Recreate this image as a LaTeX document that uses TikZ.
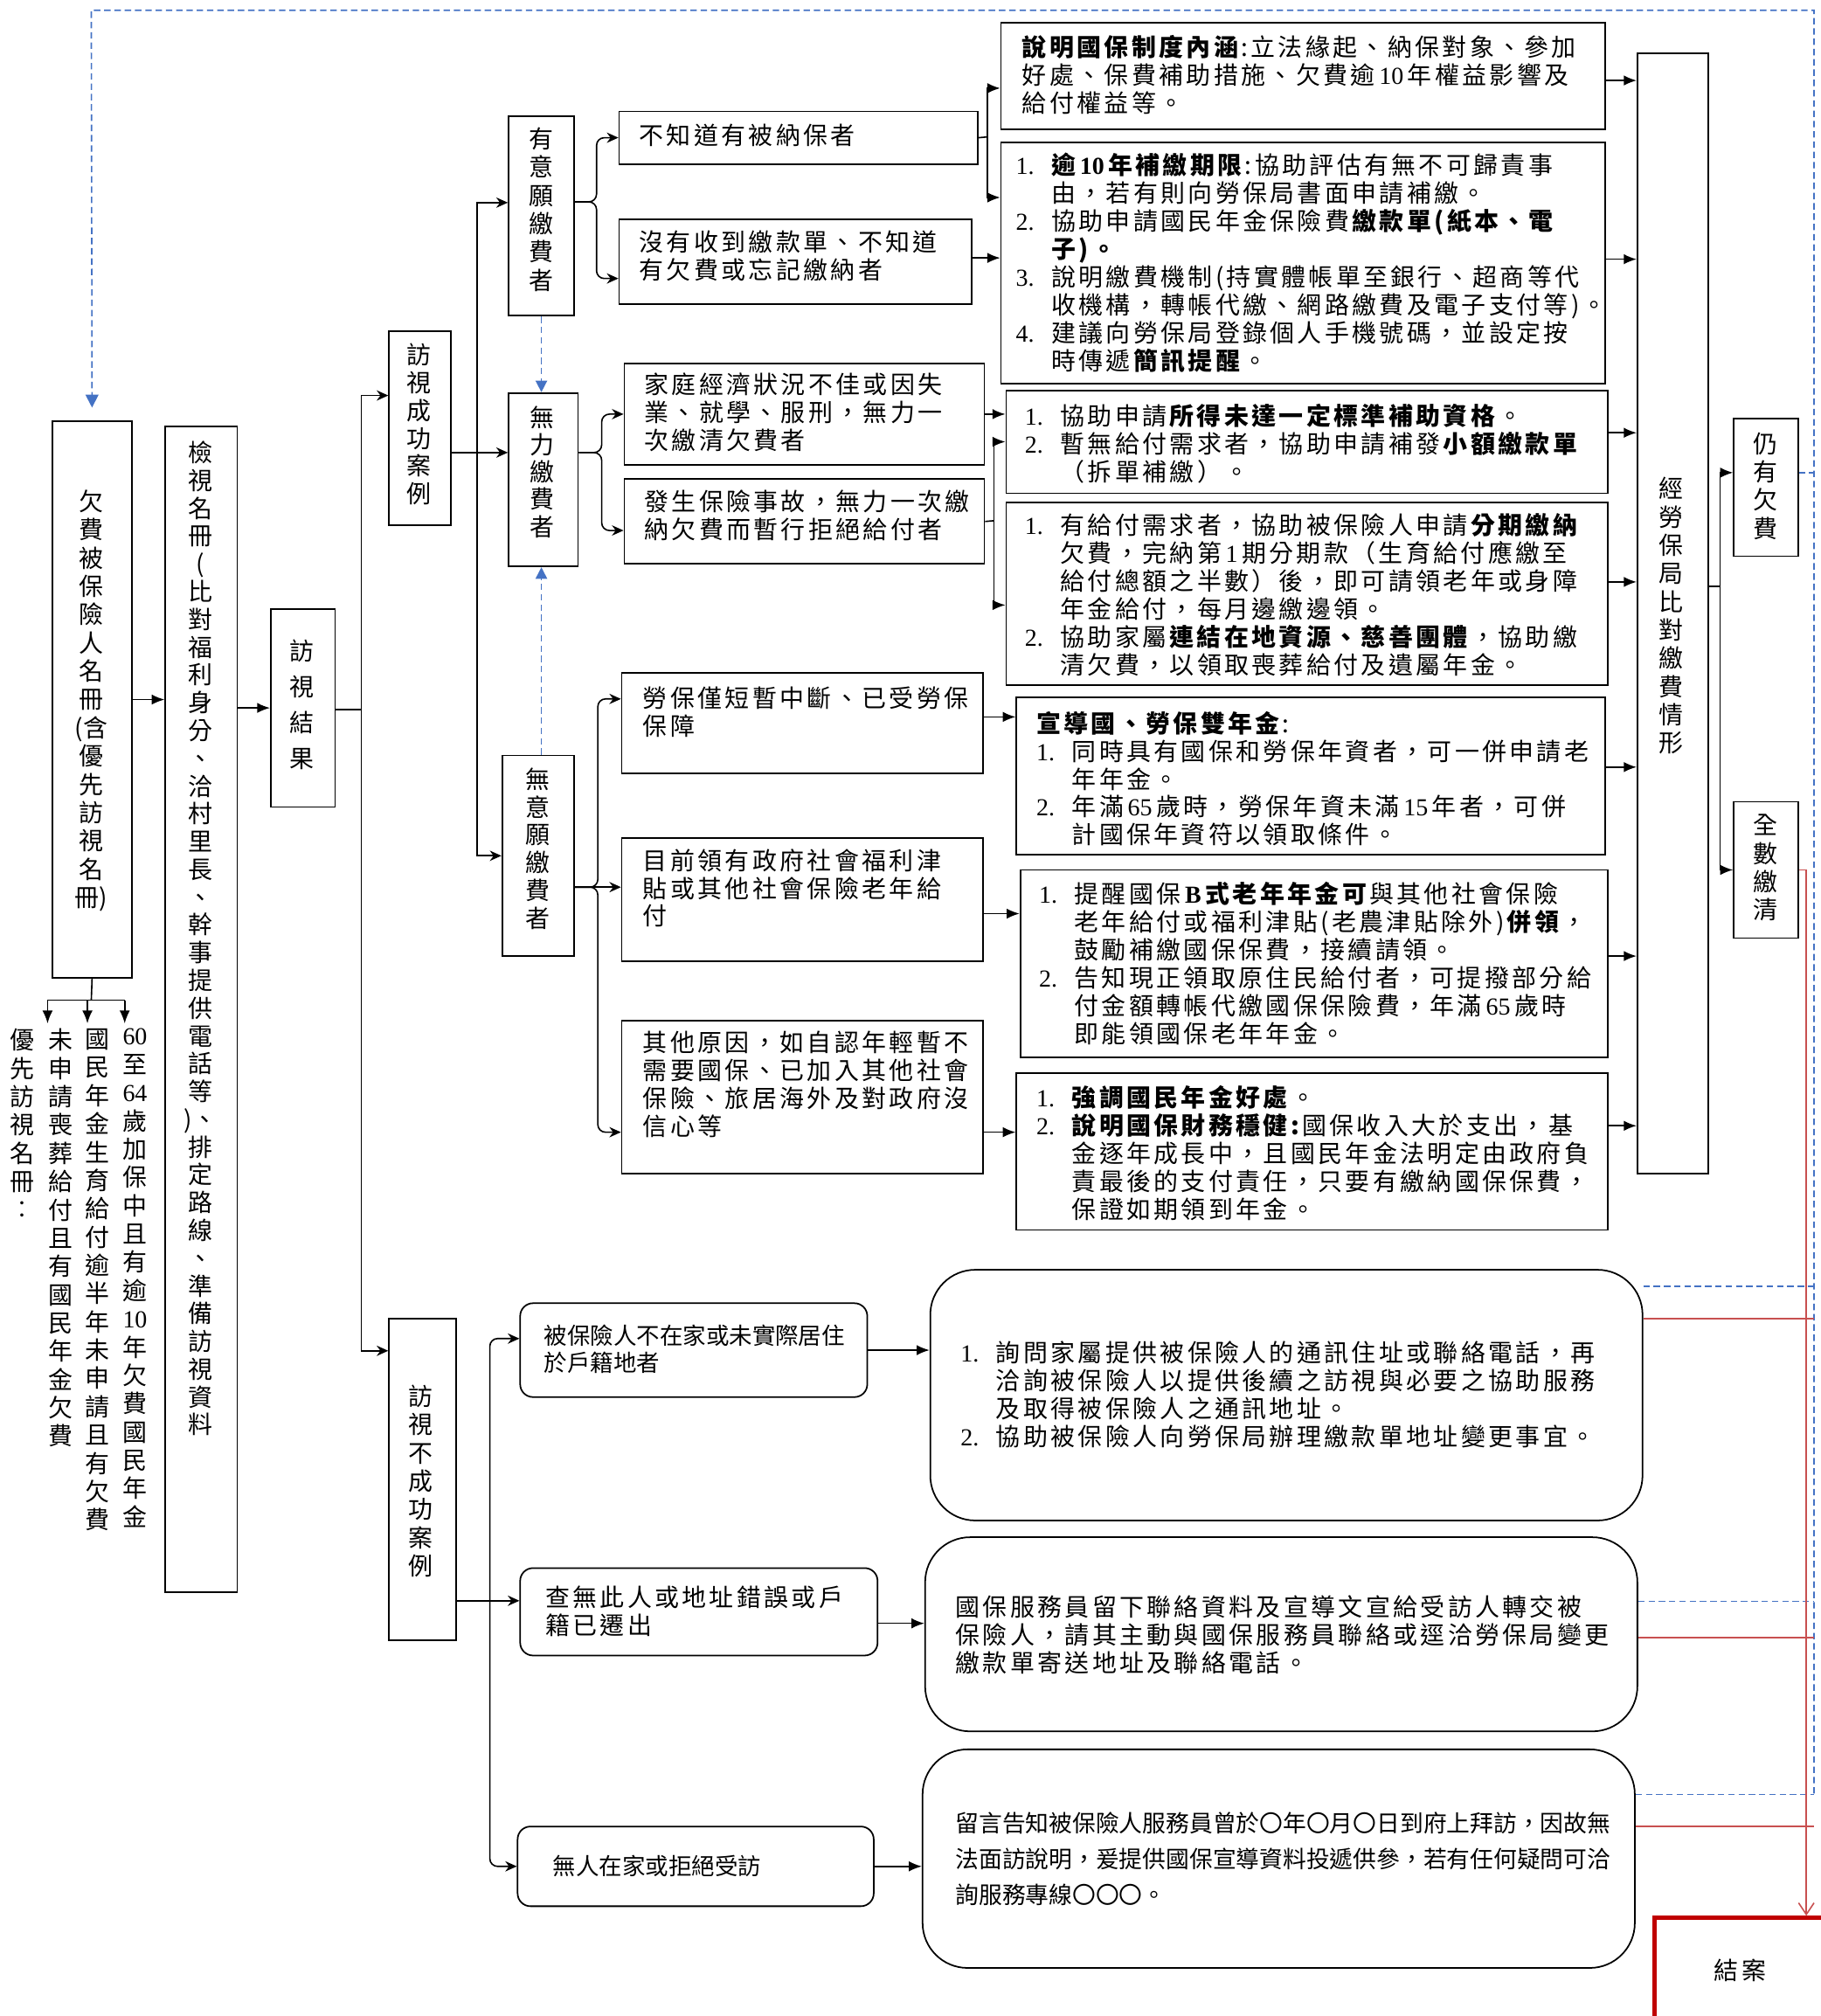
\documentclass[tikz,border=0pt]{standalone}
\usepackage{fontspec}
\setmainfont{Noto Sans CJK TC}[LetterSpace=12]
\newfontfamily\cjkn{Noto Sans CJK TC}
\newfontfamily\tnr{Liberation Serif}
\usetikzlibrary{arrows.meta}
\definecolor{dblue}{RGB}{68,114,196}
\definecolor{lred}{RGB}{200,80,80}
\definecolor{dred}{RGB}{192,0,0}
\newcommand\numi[1]{\makebox[1.45em][l]{\tnr #1.}}
\newcommand\hind{\hspace*{1.45em}}
\begin{document}
\begin{tikzpicture}[x=1pt,y=-1pt,
  box/.style={draw, line width=1.2pt, inner sep=0pt, anchor=north west},
  rbox/.style={box, rounded corners=10pt},
  Rbox/.style={box, rounded corners=35pt},
  txt/.style={anchor=north west, inner sep=0pt, align=left, font=\fontsize{19}{21.7}\selectfont},
  vt/.style={inner sep=0pt, align=center, font=\cjkn\fontsize{19}{#1}\selectfont},
  vt/.default=22,
  ln/.style={line width=1.1pt},
  arr/.style={line width=1.1pt, -{Stealth[length=9pt,width=8pt]}},
  arrf/.style={line width=1.1pt, -{Latex[length=10pt,width=8pt]}},
  bd/.style={draw=dblue, line width=1.1pt, dash pattern=on 5pt off 3pt},
  rl/.style={draw=lred, line width=1.1pt}
]
\useasboundingbox (0,0) rectangle (1416,1568);
\fill[white] (0,0) rectangle (1416,1568);

% ---------- left column boxes ----------
\node[box,minimum width=62,minimum height=433] (Q) at (40,327) {};
\node[box,minimum width=56,minimum height=907] (J) at (128,331) {};
\node[box,minimum width=50,minimum height=154] (R) at (210,473) {};
\node[box,minimum width=48,minimum height=151] (S) at (302,257) {};
\node[box,minimum width=51,minimum height=155] (Y) at (395,90) {};
\node[box,minimum width=54,minimum height=135] (W) at (395,305) {};
\node[box,minimum width=56,minimum height=156] (N) at (390,587) {};
\node[box,minimum width=52,minimum height=250] (F) at (302,1025) {};
\node[box,minimum width=55,minimum height=871] (L) at (1273,41) {};
\node[box,minimum width=50,minimum height=107] (K1) at (1348,325) {};
\node[box,minimum width=50,minimum height=106] (K2) at (1348,623) {};

\node[vt] (Qt) at (71,545) {欠\\費\\被\\保\\險\\人\\名\\冊\\(含\\優\\先\\訪\\視\\名\\冊)};
\node[vt=21.6] (Jt) at (156,730) {檢\\視\\名\\冊\\(\\比\\對\\福\\利\\身\\分\\、\\洽\\村\\里\\長\\、\\幹\\事\\提\\供\\電\\話\\等\\)、\\排\\定\\路\\線\\、\\準\\備\\訪\\視\\資\\料};
\node[vt=28] (Rt) at (235,548) {訪\\視\\結\\果};
\node[vt=21.6] (St) at (326,330) {訪\\視\\成\\功\\案\\例};
\node[vt] (Yt) at (421,163) {有\\意\\願\\繳\\費\\者};
\node[vt=21.2] (Wt) at (422,367) {無\\力\\繳\\費\\者};
\node[vt=21.6] (Nt) at (418,660) {無\\意\\願\\繳\\費\\者};
\node[vt] (Ft) at (327,1152) {訪\\視\\不\\成\\功\\案\\例};
\node[vt] (Lt) at (1300,479) {經\\勞\\保\\局\\比\\對\\繳\\費\\情\\形};
\node[vt] (K1t) at (1373,378) {仍\\有\\欠\\費};
\node[vt] (K2t) at (1373,675) {全\\數\\繳\\清};

% columns under the roster box
\node[vt,anchor=north] (c1) at (17,800) {優\\先\\訪\\視\\名\\冊\\︰};
\node[vt,anchor=north] (c2) at (47,800) {未\\申\\請\\喪\\葬\\給\\付\\且\\有\\國\\民\\年\\金\\欠\\費};
\node[vt,anchor=north] (c3) at (76,800) {國\\民\\年\\金\\生\\育\\給\\付\\逾\\半\\年\\未\\申\\請\\且\\有\\欠\\費};
\node[vt,anchor=north] (c4) at (105,800) {{\tnr 60}\\至\\{\tnr 64}\\歲\\加\\保\\中\\且\\有\\逾\\{\tnr 10}\\年\\欠\\費\\國\\民\\年\\金};

% ---------- middle boxes ----------
\node[box,minimum width=279,minimum height=41] (nk) at (481,86) {};
\node[box,minimum width=274,minimum height=66] (nm) at (481,170) {};
\node[box,minimum width=280,minimum height=79] (hj) at (485,282) {};
\node[box,minimum width=280,minimum height=66] (fs) at (485,372) {};
\node[box,minimum width=281,minimum height=78] (lb) at (483,523) {};
\node[box,minimum width=281,minimum height=96] (mq) at (483,651) {};
\node[box,minimum width=281,minimum height=119] (qt) at (483,793) {};

\node[txt] (nkt) at (497,96) {不知道有被納保者};
\node[txt] (nmt) at (497,179) {沒有收到繳款單、不知道\\有欠費或忘記繳納者};
\node[txt] (hjt) at (501,290) {家庭經濟狀況不佳或因失\\業、就學、服刑，無力一\\次繳清欠費者};
\node[txt] (fst) at (501,381) {發生保險事故，無力一次繳\\納欠費而暫行拒絕給付者};
\node[txt] (lbt) at (500,534) {勞保僅短暫中斷、已受勞保\\保障};
\node[txt] (mqt) at (500,660) {目前領有政府社會福利津\\貼或其他社會保險老年給\\付};
\node[txt] (qtt) at (500,802) {其他原因，如自認年輕暫不\\需要國保、已加入其他社會\\保險、旅居海外及對政府沒\\信心等};

% ---------- right text boxes ----------
\node[box,minimum width=470,minimum height=83] (bA) at (778,17) {};
\node[box,minimum width=470,minimum height=188] (bB) at (778,110) {};
\node[box,minimum width=468,minimum height=80] (bC) at (782,303) {};
\node[box,minimum width=468,minimum height=142] (bD) at (782,390) {};
\node[box,minimum width=458,minimum height=122] (bE) at (790,542) {};
\node[box,minimum width=457,minimum height=146] (bF) at (793,676) {};
\node[box,minimum width=460,minimum height=122] (bG) at (790,834) {};

\node[txt] (bAt) at (795,27) {\textbf{說明國保制度內涵}:立法緣起、納保對象、參加\\好處、保費補助措施、欠費逾\,{\tnr 10}\,年權益影響及\\給付權益等。};
\node[txt] (bBt) at (790,119) {\numi{1}\textbf{逾\,{\tnr 10}\,年補繳期限}:協助評估有無不可歸責事\\
\hind 由，若有則向勞保局書面申請補繳。\\
\numi{2}協助申請國民年金保險費\textbf{繳款單(紙本、電}\\
\hind\textbf{子)。}\\
\numi{3}說明繳費機制(持實體帳單至銀行、超商等代\\
\hind 收機構，轉帳代繳、網路繳費及電子支付等)。\\
\numi{4}建議向勞保局登錄個人手機號碼，並設定按\\
\hind 時傳遞\textbf{簡訊提醒}。};
\node[txt] (bCt) at (797,314) {\numi{1}協助申請\textbf{所得未達一定標準補助資格}。\\
\numi{2}暫無給付需求者，協助申請補發\textbf{小額繳款單}\\
\hind（拆單補繳）。};
\node[txt] (bDt) at (797,399) {\numi{1}有給付需求者，協助被保險人申請\textbf{分期繳納}\\
\hind 欠費，完納第\,{\tnr 1}\,期分期款（生育給付應繳至\\
\hind 給付總額之半數）後，即可請領老年或身障\\
\hind 年金給付，每月邊繳邊領。\\
\numi{2}協助家屬\textbf{連結在地資源、慈善團體}，協助繳\\
\hind 清欠費，以領取喪葬給付及遺屬年金。};
\node[txt] (bEt) at (806,553) {\textbf{宣導國、勞保雙年金}:\\
\numi{1}同時具有國保和勞保年資者，可一併申請老\\
\hind 年年金。\\
\numi{2}年滿\,{\tnr 65}\,歲時，勞保年資未滿\,{\tnr 15}\,年者，可併\\
\hind 計國保年資符以領取條件。};
\node[txt] (bFt) at (808,686) {\numi{1}提醒國保\,\textbf{{\tnr B}\,式老年年金可}與其他社會保險\\
\hind 老年給付或福利津貼(老農津貼除外)\textbf{併領}，\\
\hind 鼓勵補繳國保保費，接續請領。\\
\numi{2}告知現正領取原住民給付者，可提撥部分給\\
\hind 付金額轉帳代繳國保保險費，年滿\,{\tnr 65}\,歲時\\
\hind 即能領國保老年年金。};
\node[txt] (bGt) at (806,844) {\numi{1}\textbf{強調國民年金好處}。\\
\numi{2}\textbf{說明國保財務穩健:}國保收入大於支出，基\\
\hind 金逐年成長中，且國民年金法明定由政府負\\
\hind 責最後的支付責任，只要有繳納國保保費，\\
\hind 保證如期領到年金。};

% ---------- lower part ----------
\node[rbox,minimum width=270,minimum height=73] (r1) at (404,1013) {};
\node[rbox,minimum width=278,minimum height=68] (r2) at (404,1219) {};
\node[rbox,minimum width=277,minimum height=62] (r3) at (402,1420) {};
\node[Rbox,minimum width=554,minimum height=195] (R1) at (723,987) {};
\node[Rbox,minimum width=554,minimum height=151] (R2) at (719,1195) {};
\node[Rbox,minimum width=554,minimum height=170] (R3) at (717,1360) {};

\node[txt,font=\cjkn\fontsize{18}{21.5}\selectfont] (r1t) at (423,1030) {被保險人不在家或未實際居住\\於戶籍地者};
\node[txt] (r2t) at (424,1233) {查無此人或地址錯誤或戶\\籍已遷出};
\node[txt,font=\cjkn\fontsize{18}{21.5}\selectfont] (r3t) at (430,1443) {無人在家或拒絕受訪};
\node[txt] (R1t) at (747,1043) {\numi{1}詢問家屬提供被保險人的通訊住址或聯絡電話，再\\
\hind 洽詢被保險人以提供後續之訪視與必要之協助服務\\
\hind 及取得被保險人之通訊地址。\\
\numi{2}協助被保險人向勞保局辦理繳款單地址變更事宜。};
\node[txt] (R2t) at (743,1241) {國保服務員留下聯絡資料及宣導文宣給受訪人轉交被\\保險人，請其主動與國保服務員聯絡或逕洽勞保局變更\\繳款單寄送地址及聯絡電話。};
\node[txt,font=\cjkn\fontsize{18.2}{28}\selectfont] (R3t) at (743,1409) {留言告知被保險人服務員曾於〇年〇月〇日到府上拜訪，因故無\\法面訪說明，爰提供國保宣導資料投遞供參，若有任何疑問可洽\\詢服務專線〇〇〇。};

\node[box,draw=dred,line width=3.5pt,minimum width=134,minimum height=82,font=\fontsize{19}{22}\selectfont] (End) at (1285,1490) {結\hspace{3pt}案};

% ---------- connectors ----------
\coordinate (qb) at (71,778);
\coordinate (qL) at (37,778);
\coordinate (qR) at (97,778);
\coordinate (a1) at (37,796);
\coordinate (a2) at (68,796);
\coordinate (a3) at (97,796);
\draw[ln] (Q.south) -- (qb);
\draw[ln] (qL) -- (qR);
\draw[arrf] (qL) -- (a1);
\draw[arrf] (a2 |- qb) -- (a2);
\draw[arrf] (qR) -- (a3);

\draw[arrf] (Q.east) -- (Q.east -| J.west);
\draw[arrf] (R.west -| J.east) -- (R.west);

\coordinate (b1) at (281,552);
\draw[ln] (R.east |- b1) -- (b1);
\draw[arr] (b1) |- ([yshift=25.5pt]S.west);
\draw[arr] (b1) |- ([yshift=100pt]F.west);

\coordinate (b2) at (371,352);
\draw[ln] (S.east |- b2) -- (b2);
\draw[arr] (b2) |- ([yshift=10.5pt]Y.west);
\draw[arr] (b2) -- (b2 -| W.west);
\draw[arr] (b2) |- (N.west);

\coordinate (b3) at (464,157);
\draw[arr,rounded corners=6pt] (Y.east |- b3) -- (b3) |- (nk.west);
\draw[arr,rounded corners=6pt] (Y.east |- b3) -- (b3) |- ([yshift=-13pt]nm.west);

\coordinate (b4) at (768,106.5);
\draw[ln] (nk.east) -- (b4);
\draw[arrf] (b4) |- ([yshift=-9.5pt]bA.west);
\draw[arrf] (b4) |- ([yshift=51pt]bB.west);
\draw[arrf] ([yshift=3pt]nm.east) -- ([yshift=3pt]nm.east -| bB.west);

\coordinate (b5) at (468,352);
\draw[arr,rounded corners=6pt] (W.east |- b5) -- (b5) |- (hj.west);
\draw[arr,rounded corners=6pt] (W.east |- b5) -- (b5) |- ([yshift=-7pt]fs.west);

\draw[arrf] (hj.east) -- (hj.east -| bC.west);
\coordinate (b6) at (773,405);
\draw[ln] (fs.east) -- (b6);
\draw[arrf] (b6) |- (bC.west);
\draw[arrf] (b6) |- ([yshift=-9pt]bD.west);

\coordinate (b7) at (465,690);
\draw[arr,rounded corners=6pt] (N.east |- b7) -- (b7) |- ([yshift=19pt]lb.west);
\draw[arr] (N.east |- b7) -- (b7 -| mq.west);
\draw[arr,rounded corners=6pt] (N.east |- b7) -- (b7) |- ([yshift=-27.5pt]qt.west);

\coordinate (m1) at ([yshift=5pt]lb.east);
\draw[arrf] (m1) -- (m1 -| bE.west);
\coordinate (m2) at ([yshift=-11pt]mq.east);
\draw[arrf] (m2) -- (m2 -| bF.west);
\coordinate (m3) at ([yshift=-27.5pt]qt.east);
\draw[arrf] (m3) -- (m3 -| bG.west);

\coordinate (e1) at ([yshift=-3.5pt]bA.east);
\coordinate (e2) at ([yshift=3pt]bB.east);
\coordinate (e3) at ([yshift=7pt]bC.east);
\coordinate (e4) at ([yshift=9pt]bD.east);
\coordinate (e5) at ([yshift=7pt]bE.east);
\coordinate (e6) at ([yshift=6pt]bF.east);
\coordinate (e7) at ([yshift=20pt]bG.east);
\foreach \e in {e1,e2,e3,e4,e5,e6,e7} \draw[arrf] (\e) -- (\e -| L.west);

\coordinate (b8) at (1338,456);
\draw[ln] (L.east |- b8) -- (b8);
\draw[arrf] (b8) |- ([yshift=11.5pt]K1.west);
\draw[arrf] (b8) |- (K2.west);

\coordinate (b9) at (381,1245);
\draw[ln] (F.east |- b9) -- (b9);
\draw[arr,rounded corners=6pt] (b9) |- ([yshift=9pt]r1.west);
\draw[arr] (b9) -- (b9 -| r2.west);
\draw[arr,rounded corners=6pt] (b9) |- (r3.west);

\draw[arrf] (r1.east) -- (r1.east -| R1.west);
\draw[arrf] ([yshift=-9pt]r2.east) -- ([yshift=-9pt]r2.east -| R2.west);
\draw[arrf] (r3.east) -- (r3.east -| R3.west);

% blue dashed feedback
\coordinate (t1) at (1411,8);
\coordinate (t2) at (71,8);
\coordinate (t3) at (1411,1395);
\coordinate (kq) at ([yshift=11.5pt]K1.east);
\draw[bd] (kq) -- (kq -| t1);
\draw[bd,-{Triangle[length=10pt,width=10pt]},dblue] (t3) -- (t1) -- (t2) -- ([yshift=10pt]Q.north);
\draw[bd,-{Triangle[length=9pt,width=9pt]},dblue] (Y.south) -- (Y.south |- W.north);
\draw[bd,-{Triangle[length=9pt,width=9pt]},dblue] (Y.south |- N.north) -- (Y.south |- W.south);
\coordinate (u1) at ([yshift=84.5pt]R1.east);
\coordinate (u2) at ([yshift=25.5pt]R2.east);
\coordinate (u3) at ([yshift=50pt]R3.east);
\foreach \u in {u1,u2,u3} \draw[bd] (\u) -- (\u -| t1);

% red lines to closing
\coordinate (rv) at (1405,0);
\draw[rl,-{Straight Barb[length=9pt,width=12pt]}] (K2.east) -- (K2.east -| rv) -- (rv |- End.north);
\coordinate (v1) at ([yshift=59.5pt]R1.east);
\coordinate (v2) at ([yshift=-2.5pt]R2.east);
\coordinate (v3) at ([yshift=25pt]R3.east);
\foreach \v in {v1,v2,v3} \draw[rl] (\v) -- (\v -| t1);
\end{tikzpicture}
\end{document}
